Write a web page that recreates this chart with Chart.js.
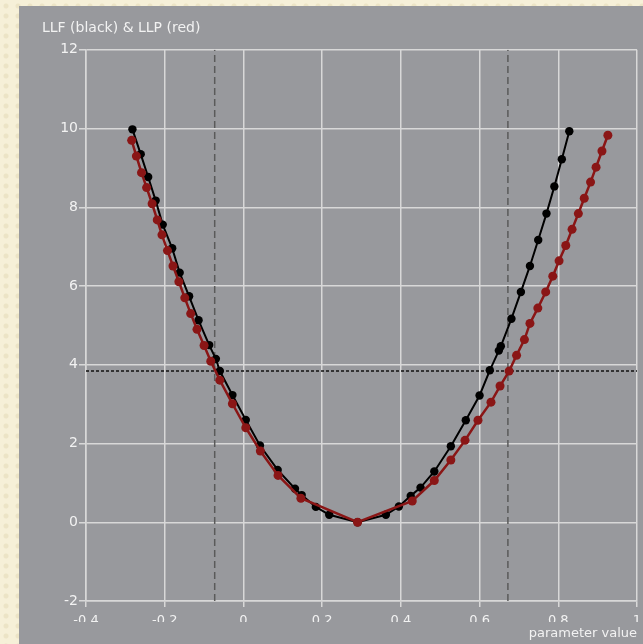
<!DOCTYPE html>
<html>
<head>
<meta charset="utf-8">
<script src="https://cdn.jsdelivr.net/npm/chart.js@4"></script>
<style>
  html, body { margin: 0; padding: 0; }
  body {
    width: 643px; height: 644px; overflow: hidden;
    background-color: #f6f0d8;
    background-image: radial-gradient(circle at 6px 6px, #ece4c6 2px, transparent 3px);
    background-size: 12px 10px;
    position: relative;
  }
  #panel { position: absolute; left: 19px; top: 6px; right: 0; bottom: 0; background: #98999d; }
  #wrap { position: absolute; left: 0; top: 0; width: 643px; height: 644px; }
</style>
</head>
<body>
<div id="panel"></div>
<div id="wrap"><canvas id="chart" width="643" height="644"></canvas></div>
<script>
// LLF profile (black) — parameter value / log-likelihood
const llfX = [-0.282, -0.261, -0.242, -0.223, -0.205, -0.181, -0.162, -0.138, -0.114, -0.087, -0.070, -0.060,
              -0.028, 0.006, 0.042, 0.087, 0.131, 0.148, 0.184, 0.218, 0.290, 0.362, 0.395, 0.425, 0.450,
              0.485, 0.527, 0.565, 0.600, 0.626, 0.649, 0.654, 0.681, 0.705, 0.728, 0.749, 0.770, 0.790, 0.809, 0.828];
const llfY = [9.98, 9.35, 8.77, 8.17, 7.56, 6.96, 6.34, 5.74, 5.13, 4.50, 4.15, 3.84,
              3.23, 2.60, 1.95, 1.33, 0.85, 0.69, 0.39, 0.19, 0.00, 0.19, 0.40, 0.67, 0.88,
              1.29, 1.93, 2.59, 3.22, 3.86, 4.36, 4.47, 5.17, 5.85, 6.51, 7.17, 7.84, 8.53, 9.22, 9.93];

// LLP profile (red)
const llpX = [-0.284, -0.272, -0.259, -0.246, -0.232, -0.219, -0.207, -0.193, -0.179, -0.164, -0.149, -0.134,
              -0.118, -0.100, -0.083, -0.060, -0.028, 0.006, 0.043, 0.088, 0.146, 0.290, 0.429, 0.485,
              0.527, 0.563, 0.596, 0.629, 0.652, 0.675, 0.694, 0.714, 0.728, 0.748, 0.768, 0.786, 0.802,
              0.819, 0.835, 0.851, 0.866, 0.882, 0.896, 0.911, 0.926];
const llpY = [9.70, 9.30, 8.88, 8.50, 8.09, 7.68, 7.30, 6.90, 6.51, 6.11, 5.70, 5.30,
              4.90, 4.49, 4.09, 3.61, 3.01, 2.40, 1.81, 1.19, 0.61, 0.00, 0.54, 1.06,
              1.58, 2.08, 2.59, 3.05, 3.46, 3.84, 4.24, 4.64, 5.05, 5.44, 5.85, 6.25, 6.64,
              7.03, 7.44, 7.84, 8.23, 8.64, 9.02, 9.43, 9.83];

// confidence limits and chi-square cut-off
const ciBounds = [-0.073, 0.672];
const cutoff = 3.84;

const xTicks = [-0.4, -0.2, 0, 0.2, 0.4, 0.6, 0.8, 1];
const yTicks = [-2, 0, 2, 4, 6, 8, 10, 12];

const pts = (xs, ys) => xs.map((x, i) => ({ x, y: ys[i] }));

const GRID = '#d8d8d8';
const TXT = '#f2f2f2';
const FONT = 'DejaVu Sans';

// hide the lower part of the x tick labels, as in the original (clipped) render
const clipLabels = {
  id: 'clipLabels',
  afterDraw(chart) {
    const c = chart.ctx;
    c.save();
    c.fillStyle = '#98999d';
    c.fillRect(19, 622, 624, 5);
    c.restore();
  }
};

new Chart(document.getElementById('chart'), {
  type: 'line',
  data: {
    datasets: [
      {
        label: 'LLP',
        data: pts(llpX, llpY),
        borderColor: '#8a1616', backgroundColor: '#8a1616',
        borderWidth: 2.5, pointRadius: 4.5, pointBorderWidth: 0,
        order: 0
      },
      {
        label: 'LLF',
        data: pts(llfX, llfY),
        borderColor: '#000', backgroundColor: '#000',
        borderWidth: 2, pointRadius: 4.2, pointBorderWidth: 0,
        order: 1
      },
      {
        label: 'lower',
        data: [{ x: ciBounds[0], y: yTicks[0] }, { x: ciBounds[0], y: yTicks[yTicks.length - 1] }],
        borderColor: '#5a5a5a', borderWidth: 1.5, borderDash: [7, 4], pointRadius: 0, order: 2
      },
      {
        label: 'upper',
        data: [{ x: ciBounds[1], y: yTicks[0] }, { x: ciBounds[1], y: yTicks[yTicks.length - 1] }],
        borderColor: '#5a5a5a', borderWidth: 1.5, borderDash: [7, 4], pointRadius: 0, order: 2
      },
      {
        label: 'cutoff',
        data: [{ x: xTicks[0], y: cutoff }, { x: xTicks[xTicks.length - 1], y: cutoff }],
        borderColor: '#111', borderWidth: 1.5, borderDash: [3, 2], pointRadius: 0, order: 2
      }
    ]
  },
  options: {
    responsive: false,
    animation: false,
    layout: { padding: { left: 42, right: 6, top: 20, bottom: 3 } },
    plugins: {
      legend: { display: false },
      tooltip: { enabled: false },
      title: {
        display: true, text: 'LLF (black) & LLP (red)', align: 'start',
        color: TXT, font: { family: FONT, size: 14, weight: 'normal' },
        padding: { top: 0, bottom: 13 }
      }
    },
    scales: {
      x: {
        type: 'linear', min: -0.4, max: 1,
        afterBuildTicks: s => { s.ticks = xTicks.map(v => ({ value: v })); },
        afterFit: s => { s.height = 40; s.paddingLeft = 0; s.paddingRight = 0; },
        ticks: { color: TXT, font: { family: FONT, size: 13 }, padding: 6, maxRotation: 0,
                 callback: v => String(+v.toFixed(1)) },
        grid: { color: GRID, lineWidth: 1.5, tickLength: 6, tickColor: GRID },
        border: { color: GRID, width: 1.5 },
        title: { display: true, text: 'parameter value', align: 'end', color: TXT,
                 font: { family: FONT, size: 13 }, padding: { top: 0, bottom: 0 } }
      },
      y: {
        min: -2, max: 12,
        afterBuildTicks: s => { s.ticks = yTicks.map(v => ({ value: v })); },
        afterFit: s => { s.width = 44; },
        ticks: { color: TXT, font: { family: FONT, size: 14 }, padding: 1 },
        grid: { color: GRID, lineWidth: 1.5, tickLength: 7, tickColor: GRID },
        border: { color: GRID, width: 1.5 }
      }
    }
  },
  plugins: [clipLabels]
});
</script>
</body>
</html>
